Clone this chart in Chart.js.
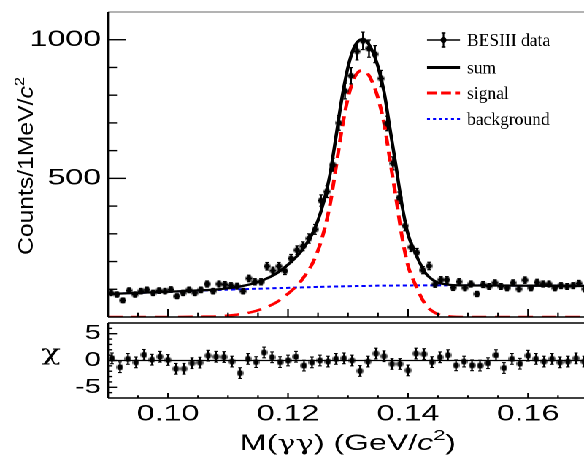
<!DOCTYPE html>
<html>
<head>
<meta charset="utf-8">
<script src="https://cdn.jsdelivr.net/npm/chart.js@4.4.0/dist/chart.umd.min.js"></script>
<style>
html, body { margin: 0; padding: 0; background: #fff; overflow: hidden; width: 584px; height: 458px; }
#stretch { position: absolute; left: 0; top: 0; width: 412px; height: 458px; transform: scaleX(1.46); transform-origin: 0 0; }
#mainChart { position: absolute; left: 0; top: 0; }
#chiChart { position: absolute; left: 0; top: 318px; }
</style>
</head>
<body>
<div id="stretch">
  <canvas id="mainChart" width="412" height="322"></canvas>
  <canvas id="chiChart" width="412" height="140"></canvas>
</div>
<script>
// the whole figure is wider than tall, so draw narrow and stretch
var K = 1.46;

// Histogram setup
var massLow = 0.09, massHigh = 0.17;
var binWidth = 0.001;
var chiBinWidth = 0.08 / 60;

// Counts per 1 MeV bin
var counts = [
  87, 81, 60, 95, 81, 93, 98, 87, 95, 93,
  99, 75, 87, 98, 87, 98, 119, 93, 119, 117,
  113, 111, 93, 139, 127, 127, 183, 167, 183, 166,
  211, 241, 255, 283, 316, 420, 452, 549, 700, 815,
  870, 958, 996, 968, 948, 860, 698, 554, 430, 329,
  252, 232, 169, 184, 118, 134, 134, 106, 127, 105,
  119, 83, 117, 110, 123, 110, 105, 123, 101, 133,
  105, 125, 119, 119, 105, 113, 110, 113, 121, 101
];

// Pull (chi) values, 60 bins
var chiValues = [
  0.4, -1.25, 0.3, -0.35, 1.05, 0.15, 0.7, 0.1, -1.55, -1.55,
  -0.5, -0.4, 0.9, 0.7, 0.65, -0.2, -2.35, 0.3, -0.3, 1.5,
  0.6, -0.3, 0, 0.7, -0.95, -0.35, 0, -0.2, 0.3, 0.4,
  0, -1.95, -0.2, 1.3, 0.8, -0.65, -0.65, -1.85, 1.3, 1.2,
  -0.3, 0.6, 1.0, -0.9, -0.2, -0.9, -0.95, -0.5, 1.0, -1.4,
  0.3, -0.6, 0.9, 0.3, -0.2, 0.3, -0.35, -0.2, 0.4, -0.2
];

// Fit curves, sampled where read
var curveMass = [0.090, 0.095, 0.100, 0.105, 0.108, 0.110, 0.112, 0.114, 0.116, 0.118,
  0.120, 0.121, 0.122, 0.123, 0.124, 0.125, 0.126, 0.127, 0.128, 0.129,
  0.130, 0.131, 0.132, 0.1325, 0.133, 0.134, 0.135, 0.136, 0.137, 0.138,
  0.139, 0.140, 0.141, 0.142, 0.143, 0.144, 0.145, 0.147, 0.150, 0.155,
  0.160, 0.165, 0.170];
var signalCurve = [0, 0, 0, 1, 2, 5, 10, 18, 32, 52,
  84, 103, 125, 155, 190, 240, 310, 405, 540, 680,
  790, 860, 888, 890, 885, 850, 790, 700, 565, 430,
  290, 185, 128, 80, 42, 22, 10, 2, 0, 0,
  0, 0, 0];
var bkgCurve = [83, 87, 91, 95, 97, 98.5, 100, 101.5, 102.5, 104,
  105, 106, 106.5, 107, 108, 108.5, 109, 109.5, 110, 110.5,
  111, 111.5, 112, 112, 112, 112.5, 113, 113, 113, 113.5,
  113.5, 113.5, 114, 114, 114, 114, 114, 114, 114, 113.5,
  113, 112.5, 112];
var sumCurve = [83, 87, 91, 96, 99, 103.5, 110, 119.5, 134.5, 156,
  189, 209, 231.5, 262, 298, 348.5, 419, 514.5, 650, 790.5,
  901, 971.5, 1000, 1002, 997, 962.5, 903, 813, 678, 543.5,
  403.5, 298.5, 242, 194, 156, 136, 124, 116, 114, 113.5,
  113, 112.5, 112];

// Tick labels
var yTickLabels = [500, 1000];
var chiTickLabels = [-5, 0, 5];
var xTickLabels = [0.10, 0.12, 0.14, 0.16];
var legendLabels = ["BESIII data", "sum", "signal", "background"];

var massCenters = counts.map(function (n, i) { return massLow + (i + 0.5) * binWidth; });
var chiCenters = chiValues.map(function (v, i) { return massLow + (i + 0.5) * chiBinWidth; });

function curve(vals) {
  return vals.map(function (v, i) { return { x: curveMass[i], y: v }; });
}

// round marker that looks round after stretching
function makeMarker() {
  var c = document.createElement("canvas");
  c.width = 5; c.height = 7;
  var g = c.getContext("2d");
  g.fillStyle = "#000";
  g.beginPath();
  g.ellipse(2.5, 3.5, 2.1, 3.0, 0, 0, Math.PI * 2);
  g.fill();
  return c;
}
var marker = makeMarker();

function line(ctx, x1, y1, x2, y2) {
  ctx.beginPath(); ctx.moveTo(x1, y1); ctx.lineTo(x2, y2); ctx.stroke();
}

// text made of runs (normal / italic / superscript)
function drawRuns(ctx, runs, x, y, align, fitWidth) {
  var total = 0;
  runs.forEach(function (r) { ctx.font = r.font; r.w = ctx.measureText(r.text).width; total += r.w; });
  var s = fitWidth ? fitWidth / total : 1;
  ctx.save();
  ctx.translate(x, y);
  ctx.scale(s, 1);
  var cx = align === "center" ? -total / 2 : (align === "right" ? -total : 0);
  ctx.textAlign = "left"; ctx.textBaseline = "alphabetic"; ctx.fillStyle = "#000";
  runs.forEach(function (r) { ctx.font = r.font; ctx.fillText(r.text, cx, r.dy || 0); cx += r.w; });
  ctx.restore();
}

var yTitleRuns = [
  { text: "Counts/1MeV/", font: '21px "Liberation Sans"' },
  { text: "c", font: 'italic 21px "Liberation Sans"' },
  { text: "2", font: '14px "Liberation Sans"', dy: -9 }
];
var xTitleRuns = [
  { text: "M(", font: '22px "Liberation Sans"' },
  { text: "\u03b3\u03b3", font: '21px "DejaVu Serif"' },
  { text: ") (GeV/", font: '22px "Liberation Sans"' },
  { text: "c", font: 'italic 22px "Liberation Sans"' },
  { text: "2", font: '15px "Liberation Sans"', dy: -10 },
  { text: ")", font: '22px "Liberation Sans"' }
];

// x tick positions every 5 MeV, index*0.005
function xTickList() {
  var list = [];
  for (var i = 19; i <= 34; i++) list.push({ v: i * 0.005, major: i % 4 === 0 });
  return list;
}

var mainDecor = {
  id: "mainDecor",
  beforeDatasetsDraw: function (chart) {
    var ctx = chart.ctx, xs = chart.scales.x, ys = chart.scales.y;
    ctx.save();
    ctx.strokeStyle = "#000";
    ctx.lineWidth = 1.2;
    counts.forEach(function (n, i) {
      var m = massCenters[i], err = Math.sqrt(n);
      var px = xs.getPixelForValue(m), py = ys.getPixelForValue(n);
      var yTop = ys.getPixelForValue(n + err), yBot = ys.getPixelForValue(n - err);
      line(ctx, px, yTop, px, yBot);
      line(ctx, xs.getPixelForValue(m - binWidth / 2), py, xs.getPixelForValue(m + binWidth / 2), py);
      line(ctx, px - 1.2, yTop, px + 1.2, yTop);
      line(ctx, px - 1.2, yBot, px + 1.2, yBot);
    });
    ctx.restore();
  },
  afterDraw: function (chart) {
    var ctx = chart.ctx, a = chart.chartArea, xs = chart.scales.x, ys = chart.scales.y;
    ctx.save();
    // frame
    ctx.strokeStyle = "#666"; ctx.lineWidth = 1;
    line(ctx, a.left, a.top, a.right + 5, a.top);
    ctx.strokeStyle = "#000"; ctx.lineWidth = 1.6;
    line(ctx, a.left, a.bottom, a.right + 5, a.bottom);
    ctx.lineWidth = 1.4;
    line(ctx, a.left, a.top, a.left, a.bottom);
    // y ticks inside
    ctx.lineWidth = 1.4;
    for (var v = 100; v <= 1000; v += 100) {
      var y = ys.getPixelForValue(v);
      line(ctx, a.left, y, a.left + (v % 500 === 0 ? 18 : 9) / K, y);
    }
    // x ticks inside
    ctx.lineWidth = 1.1;
    xTickList().forEach(function (t) {
      var x = xs.getPixelForValue(t.v);
      line(ctx, x, a.bottom, x, a.bottom - (t.major ? 8 : 4.3));
    });
    ctx.restore();

    // legend and y title in unstretched pixels
    ctx.save();
    ctx.scale(1 / K, 1);
    var rows = [40, 67.5, 93, 119];
    ctx.lineCap = "butt";
    ctx.strokeStyle = "#000"; ctx.lineWidth = 1.6;
    line(ctx, 427, rows[0], 460, rows[0]);
    line(ctx, 443.5, rows[0] - 7, 443.5, rows[0] + 7);
    line(ctx, 441.5, rows[0] - 7, 445.5, rows[0] - 7);
    line(ctx, 441.5, rows[0] + 7, 445.5, rows[0] + 7);
    ctx.fillStyle = "#000";
    ctx.beginPath(); ctx.arc(443.5, rows[0], 3, 0, Math.PI * 2); ctx.fill();
    ctx.lineWidth = 3;
    line(ctx, 427, rows[1], 460, rows[1]);
    ctx.strokeStyle = "#ff0000"; ctx.setLineDash([10, 4]);
    line(ctx, 427, rows[2], 460, rows[2]);
    ctx.strokeStyle = "#0000ff"; ctx.lineWidth = 2; ctx.setLineDash([3, 3]);
    line(ctx, 427, rows[3], 460, rows[3]);
    ctx.setLineDash([]);
    ctx.font = '17.5px "Liberation Serif"';
    ctx.fillStyle = "#000"; ctx.textAlign = "left"; ctx.textBaseline = "alphabetic";
    legendLabels.forEach(function (t, i) { ctx.fillText(t, 467, rows[i] + 6); });

    ctx.translate(33, 166);
    ctx.rotate(-Math.PI / 2);
    drawRuns(ctx, yTitleRuns, 0, 0, "center", 178);
    ctx.restore();
  }
};

var chiDecor = {
  id: "chiDecor",
  beforeDatasetsDraw: function (chart) {
    var ctx = chart.ctx, xs = chart.scales.x, ys = chart.scales.y;
    ctx.save();
    ctx.strokeStyle = "#000"; ctx.lineWidth = 1.1;
    chiValues.forEach(function (v, i) {
      var px = xs.getPixelForValue(chiCenters[i]);
      var yTop = ys.getPixelForValue(v + 1), yBot = ys.getPixelForValue(v - 1);
      line(ctx, px, yTop, px, yBot);
      line(ctx, px - 1.2, yTop, px + 1.2, yTop);
      line(ctx, px - 1.2, yBot, px + 1.2, yBot);
    });
    ctx.restore();
  },
  afterDraw: function (chart) {
    var ctx = chart.ctx, a = chart.chartArea, xs = chart.scales.x, ys = chart.scales.y;
    ctx.save();
    ctx.strokeStyle = "#000"; ctx.lineWidth = 1.6;
    line(ctx, a.left, a.top, a.right + 5, a.top);
    line(ctx, a.left, a.bottom, a.right + 5, a.bottom);
    ctx.lineWidth = 1.4;
    line(ctx, a.left, a.top, a.left, a.bottom);
    ctx.lineWidth = 1.4;
    for (var v = -6; v <= 6; v++) {
      var y = ys.getPixelForValue(v);
      line(ctx, a.left, y, a.left + (v % 5 === 0 ? 9 : 4.5) / K, y);
    }
    ctx.lineWidth = 1.1;
    xTickList().forEach(function (t) {
      var x = xs.getPixelForValue(t.v);
      line(ctx, x, a.bottom, x, a.bottom - (t.major ? 5 : 2.7));
    });
    ctx.fillStyle = "#000";
    ctx.font = '22px "DejaVu Serif"';
    ctx.textAlign = "center"; ctx.textBaseline = "alphabetic";
    ctx.fillText("\u03c7", 51 / K, 360 - 318);
    drawRuns(ctx, xTitleRuns, 456 / K, 450 - 318, "right", 216 / K);
    ctx.restore();
  }
};

var rightPad = 412 - 588 / K;

var mainChart = new Chart(document.getElementById("mainChart"), {
  type: "line",
  data: {
    datasets: [
      { label: legendLabels[0], data: counts.map(function (n, i) { return { x: massCenters[i], y: n }; }),
        showLine: false, pointStyle: marker, pointRadius: 3, order: 0 },
      { label: legendLabels[1], data: curve(sumCurve), borderColor: "#000", borderWidth: 2.3,
        pointRadius: 0, cubicInterpolationMode: "monotone", order: 1 },
      { label: legendLabels[2], data: curve(signalCurve), borderColor: "#ff0000", borderWidth: 2.5,
        borderDash: [10, 6], pointRadius: 0, cubicInterpolationMode: "monotone", order: 2 },
      { label: legendLabels[3], data: curve(bkgCurve), borderColor: "#0000ff", borderWidth: 2,
        borderDash: [2.7, 2], pointRadius: 0, cubicInterpolationMode: "monotone", order: 3 }
    ]
  },
  options: {
    responsive: false,
    devicePixelRatio: 2,
    animation: false,
    events: [],
    layout: { padding: { top: 12, right: rightPad, bottom: 2, left: 0 } },
    plugins: { legend: { display: false }, tooltip: { enabled: false } },
    scales: {
      x: { type: "linear", min: massLow, max: massHigh, display: false },
      y: {
        min: 0, max: 1100,
        grid: { display: false, drawTicks: false },
        border: { display: false },
        ticks: {
          stepSize: 100, autoSkip: false, color: "#000", padding: 7 / K,
          font: { family: "Liberation Sans", size: 22 },
          callback: function (v) { return yTickLabels.indexOf(Math.round(v)) >= 0 ? String(Math.round(v)) : ""; }
        },
        afterFit: function (s) { s.width = 108 / K; s.paddingTop = 0; s.paddingBottom = 0; }
      }
    }
  },
  plugins: [mainDecor]
});

var chiChart = new Chart(document.getElementById("chiChart"), {
  type: "line",
  data: {
    datasets: [
      { label: "chi", data: chiValues.map(function (v, i) { return { x: chiCenters[i], y: v }; }),
        showLine: false, pointStyle: marker, pointRadius: 3, order: 0 },
      { label: "zero", data: [{ x: massLow, y: 0 }, { x: massHigh, y: 0 }], borderColor: "#000",
        borderWidth: 1.2, pointRadius: 0, order: 1 }
    ]
  },
  options: {
    responsive: false,
    devicePixelRatio: 2,
    animation: false,
    events: [],
    layout: { padding: { top: 2, right: rightPad, bottom: 0, left: 0 } },
    plugins: { legend: { display: false }, tooltip: { enabled: false } },
    scales: {
      x: {
        type: "linear", min: massLow, max: massHigh,
        grid: { display: false, drawTicks: false },
        border: { display: false },
        ticks: {
          stepSize: 0.005, autoSkip: false, maxRotation: 0, color: "#000", padding: 3,
          font: { family: "Liberation Sans", size: 22 },
          callback: function (v) {
            return xTickLabels.some(function (t) { return Math.abs(t - v) < 1e-6; }) ? v.toFixed(2) : "";
          }
        },
        afterFit: function (s) { s.height = 60; s.paddingLeft = 0; s.paddingRight = 0; }
      },
      y: {
        min: -7, max: 7,
        grid: { display: false, drawTicks: false },
        border: { display: false },
        ticks: {
          stepSize: 1, autoSkip: false, color: "#000", padding: 7 / K,
          font: { family: "Liberation Sans", size: 20 },
          callback: function (v) { return chiTickLabels.indexOf(Math.round(v)) >= 0 ? String(Math.round(v)) : ""; }
        },
        afterFit: function (s) { s.width = 108 / K; s.paddingTop = 0; s.paddingBottom = 0; }
      }
    }
  },
  plugins: [chiDecor]
});
</script>
</body>
</html>
